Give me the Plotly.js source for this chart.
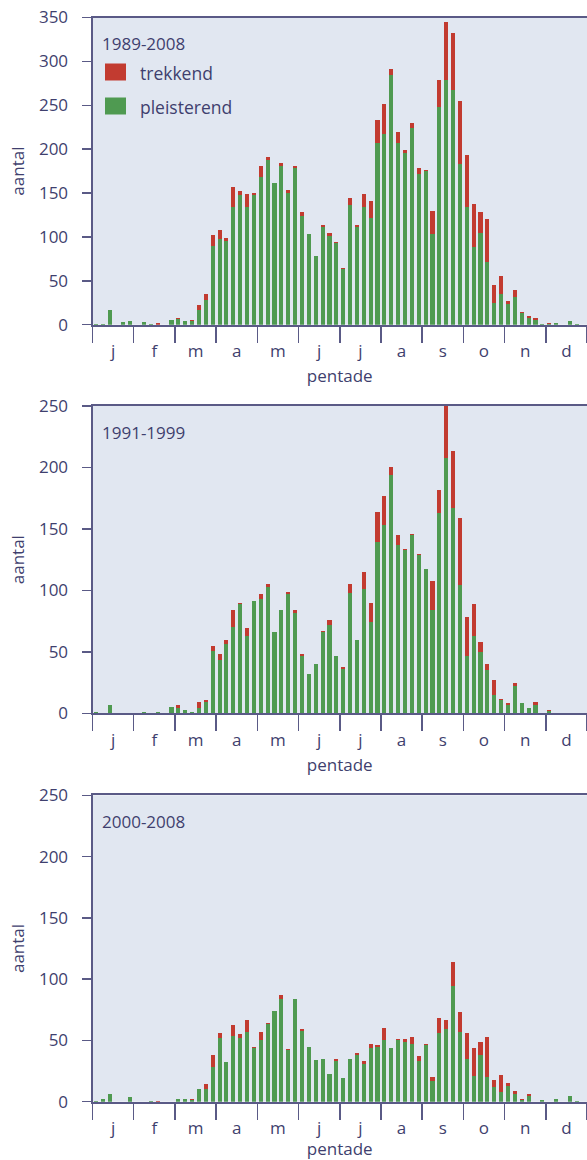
<!DOCTYPE html>
<html>
<head>
<meta charset="utf-8">
<script src="https://cdn.plot.ly/plotly-3.0.1.min.js"></script>
<style>
html,body{margin:0;padding:0;background:#fff;}
#chart{width:587px;height:1160px;}
</style>
</head>
<body>
<div id="chart"></div>
<script>
// ---------- data ----------
const monthLabels = ['j','f','m','a','m','j','j','a','s','o','n','d'];
const periods = ['1989-2008','1991-1999','2000-2008'];
const seriesNames = ['trekkend','pleisterend'];

// pleisterend (green) per pentade, 1989-2008
const pleist1 = [1,1,17,0,3,4,0,3,1,0, 0,5,6,4,4,17,28,90,98,95,
  134,148,134,148,168,188,161,181,150,179, 124,103,78,111,101,93,63,136,111,134,
  122,207,217,285,207,196,224,172,175,103, 248,279,267,183,134,88,105,72,25,35,
  24,32,13,8,5,1,1,2,0,4, 1,0];
// trekkend (red) per pentade, 1989-2008
const trek1 = [0,0,0,0,0,0,0,0,0,1.5, 0,0,2,0,1,5,7,12,10,4,
  23,4,15,2,13,3,0,3,3,2, 4,0,0,3,4,1,2,8,3,15,
  19,26,34,6,13,3,6,7,1,27, 31,66,65,72,59,49,23,49,20,20,
  3,7,1,1.5,3,0,1.5,0,0,0, 0,0];

// 1991-1999
const pleist2 = [1,0,6.5,0,0,0,0,1,0,1, 0,5,4,2.4,1,4,9,51,43,56,
  70,89,63,91,93,103,66,84,97,82, 47,32,40,66.5,72,47,36,98,60,101,
  74,139,153,194,137,133,145,128.5,117,84, 163,208,167,104,47,63,50,35,15,11,
  6.5,22,8,4,7,0,2,0,0,0, 0,0];
const trek2 = [0,0,0,0,0,0,0,0,0,0, 0,0,2.5,0,0,5,2,4,5,4,
  14,1,6,0,4,2,0,0,2,2, 1.5,0,0,0.5,4,0,2,7,0,14,
  16,25,24,6,8,1,1,1.5,0,24, 19,42,46,55,31,26,8,5,12,1,
  1.5,3,0,0,2,0,1,0,0,0, 0,0];

// 2000-2008
const pleist3 = [0.5,2,6.5,0,0,4,0,0,0.5,0, 0,0,2,2,1,10.5,10.5,28,52,32,
  54,52,57,44,50,63,74,84,42,84, 58,45,34,35,23,33.5,19,35,38.5,31,
  44,45,50,44,50.5,49,47,33,46,17, 56,59,94,57,35,21,38,20,12,8,
  13,6,1,5,0,1.5,0,2.5,0,5, 0.3,0];
const trek3 = [0,0,0,0,0,0,0,0,0,0.5, 0,0,0,0,1,0,4,10,4,0,
  8.5,3,10,0.5,7,1,0,3,1,0, 1,0,0,0,0,1.5,0,0,1,2,
  3,1,10,0,1,2,6,4,1,3, 12,8,20,16,21,23,11,33,6,14,
  2,3,1,1,0,0,0,0,0,0, 0,0];

const pleistSeries = [pleist1, pleist2, pleist3];
const trekSeries = [trek1, trek2, trek3];
const yMax = [350, 250, 250];

// ---------- styling / layout ----------
const GREEN = '#4f9a51';
const RED = '#c23b30';
const LINE = '#5a5a86';
const TEXT = '#3f3f6e';
const BG = '#e1e7f1';
const FONT = '"Open Sans", "Noto Sans", sans-serif';
const W = 587, H = 1160;

const pentades = pleist1.map((_, i) => i + 1);
const monthCenters = monthLabels.map((_, k) => 3.5 + 6 * k);
const monthBounds = Array.from({length: 13}, (_, k) => 0.5 + 6 * k);

// panel pixel boxes: [top, bottom]
const panelPx = [[17.5, 324.7], [406, 713.3], [795.3, 1101.7]];
const xLeftPx = 92.5;

const traces = [];
const layout = {
  width: W, height: H,
  margin: {l: 0, r: 0, t: 0, b: 0},
  paper_bgcolor: '#ffffff',
  plot_bgcolor: BG,
  barmode: 'stack',
  showlegend: false,
  font: {family: FONT, color: TEXT, size: 17},
  annotations: [],
  shapes: []
};

const px2x = p => p / W;
const px2y = p => 1 - p / H;

periods.forEach((per, i) => {
  const sfx = i === 0 ? '' : String(i + 1);
  traces.push({
    type: 'bar', x: pentades, y: pleistSeries[i], name: seriesNames[1],
    marker: {color: GREEN, line: {width: 0}}, width: 0.6,
    xaxis: 'x' + sfx, yaxis: 'y' + sfx, hoverinfo: 'x+y+name'
  });
  traces.push({
    type: 'bar', x: pentades, y: trekSeries[i], name: seriesNames[0],
    marker: {color: RED, line: {width: 0}}, width: 0.6,
    xaxis: 'x' + sfx, yaxis: 'y' + sfx, hoverinfo: 'x+y+name'
  });
  const [top, bot] = panelPx[i];
  layout['xaxis' + sfx] = {
    domain: [px2x(xLeftPx), 1],
    anchor: 'y' + sfx,
    range: [0.5, 72.5],
    tickmode: 'array', tickvals: monthCenters, ticktext: monthLabels,
    ticks: 'outside', ticklen: 10, tickcolor: 'rgba(0,0,0,0)',
    minor: {tickmode: 'array', tickvals: monthBounds, ticks: 'outside',
            ticklen: 16, tickwidth: 1.5, tickcolor: LINE},
    showline: true, linecolor: LINE, linewidth: 2, mirror: true,
    showgrid: false, zeroline: false, fixedrange: true,
    tickfont: {size: 17, color: TEXT, family: FONT},
    title: {text: 'pentade', font: {size: 17, color: TEXT, family: FONT}, standoff: 9}
  };
  layout['yaxis' + sfx] = {
    domain: [px2y(bot), px2y(top)],
    anchor: 'x' + sfx,
    range: [0, yMax[i]], dtick: 50, tick0: 0,
    ticks: 'outside', ticklen: 9, tickwidth: 1.5, tickcolor: LINE,
    ticklabelstandoff: 10,
    showline: true, linecolor: LINE, linewidth: 2,
    showgrid: false, zeroline: false, fixedrange: true,
    tickfont: {size: 17, color: TEXT, family: FONT},
    title: {text: 'aantal', font: {size: 17, color: TEXT, family: FONT}, standoff: 10}
  };
  layout.annotations.push({
    xref: 'paper', yref: 'paper', x: px2x(100), y: px2y(top + 26),
    xanchor: 'left', yanchor: 'middle', showarrow: false,
    text: per, font: {size: 17, color: TEXT, family: FONT}
  });
});

// legend (first panel)
const legendItems = [
  {name: seriesNames[0], color: RED, cy: 72},
  {name: seriesNames[1], color: GREEN, cy: 106}
];
legendItems.forEach(it => {
  layout.shapes.push({
    type: 'rect', xref: 'paper', yref: 'paper',
    x0: px2x(105), x1: px2x(126), y0: px2y(it.cy + 8.5), y1: px2y(it.cy - 8.5),
    fillcolor: it.color, line: {width: 0}
  });
  layout.annotations.push({
    xref: 'paper', yref: 'paper', x: px2x(138), y: px2y(it.cy + 1),
    xanchor: 'left', yanchor: 'middle', showarrow: false,
    text: it.name, font: {size: 17.5, color: TEXT, family: FONT}
  });
});

Plotly.newPlot('chart', traces, layout, {displayModeBar: false, staticPlot: true});
</script>
</body>
</html>
